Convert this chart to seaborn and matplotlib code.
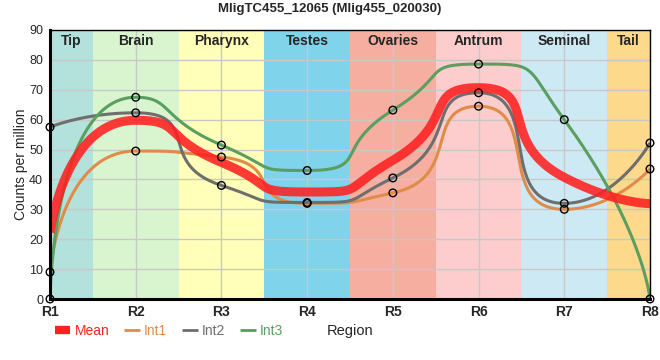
import numpy as np
import pandas as pd
import matplotlib
matplotlib.use("Agg")
import matplotlib.pyplot as plt
import seaborn as sns
from matplotlib.lines import Line2D

regions = ["R1", "R2", "R3", "R4", "R5", "R6", "R7", "R8"]
int1 = [9.0, 49.5, 47.5, 32.0, 35.5, 64.5, 30.0, 43.5]
int2 = [57.5, 62.3, 38.0, 32.3, 40.5, 69.0, 32.0, 52.2]
int3 = [0.0, 67.5, 51.5, 43.0, 63.2, 78.6, 60.0, 0.0]
mean = [22.2, 59.8, 45.7, 35.8, 46.4, 70.7, 40.7, 31.9]

band_names = ["Tip", "Brain", "Pharynx", "Testes", "Ovaries", "Antrum", "Seminal", "Tail"]
band_colors = ["#b3e2dd", "#d9f5cf", "#ffffb9", "#7fd3ea", "#f5ae9f", "#fdcccc", "#cdeaf4", "#fcd98b"]

series_colors = {"Mean": "#ff2020", "Int1": "#e08c48", "Int2": "#6e6e6e", "Int3": "#5a9e60"}

X_PX = 600 / 7.0     # pixels per category step
Y_PX = 269 / 90.0    # pixels per y unit


def smooth_path(xv, yv, smooth=0.7, n=60):
    """Bezier smoothing computed in pixel space (segment-length weighted, clamped)."""
    P = [(float(a) * X_PX, float(b) * Y_PX) for a, b in zip(xv, yv)]
    N = len(P)
    segs = []
    cp0 = P[0]
    for i in range(1, N):
        x, y = P[i]
        px, py = P[i - 1]
        if i == N - 1:
            cp1 = (x, y)
            ncp0 = None
        else:
            nx, ny = P[i + 1]
            vx, vy = nx - px, ny - py
            lp = np.hypot(x - px, y - py)
            ln = np.hypot(nx - x, ny - y)
            r = ln / (ln + lp)
            ncx = x + vx * smooth * r
            ncy = y + vy * smooth * r
            ncx = min(ncx, max(nx, x)); ncy = min(ncy, max(ny, y))
            ncx = max(ncx, min(nx, x)); ncy = max(ncy, min(ny, y))
            vx, vy = ncx - x, ncy - y
            c1x = x - vx * lp / ln
            c1y = y - vy * lp / ln
            c1x = min(c1x, max(px, x)); c1y = min(c1y, max(py, y))
            c1x = max(c1x, min(px, x)); c1y = max(c1y, min(py, y))
            vx, vy = x - c1x, y - c1y
            ncx = x + vx * ln / lp
            ncy = y + vy * ln / lp
            cp1 = (c1x, c1y)
            ncp0 = (ncx, ncy)
        segs.append((P[i - 1], cp0, cp1, P[i]))
        cp0 = ncp0
    xs, ys = [], []
    for k, (p0, p1, p2, p3) in enumerate(segs):
        t = np.linspace(0, 1, n, endpoint=(k == len(segs) - 1))
        a = (1 - t) ** 3; b = 3 * (1 - t) ** 2 * t; c = 3 * (1 - t) * t ** 2; d = t ** 3
        xs.append((a * p0[0] + b * p1[0] + c * p2[0] + d * p3[0]) / X_PX)
        ys.append((a * p0[1] + b * p1[1] + c * p2[1] + d * p3[1]) / Y_PX)
    return np.concatenate(xs), np.concatenate(ys)


pos = np.arange(len(regions))
frames = []
for name, vals in [("Mean", mean), ("Int1", int1), ("Int2", int2), ("Int3", int3)]:
    xs, ys = smooth_path(pos, vals)
    frames.append(pd.DataFrame({"x": xs, "y": ys, "series": name}))
curve = pd.concat(frames, ignore_index=True)
pts = pd.concat([pd.DataFrame({"x": pos, "y": v, "series": n})
                 for n, v in [("Int1", int1), ("Int2", int2), ("Int3", int3)]], ignore_index=True)

sns.set_style("white")
plt.rcParams["font.family"] = ["Liberation Sans", "DejaVu Sans"]

fig = plt.figure(figsize=(6.6, 3.6), dpi=100)
ax = fig.add_axes([50 / 660, 1 - 299 / 360, 600 / 660, 269 / 360])

for i, (bn, bc) in enumerate(zip(band_names, band_colors)):
    lo = max(i - 0.5, 0)
    hi = min(i + 0.5, len(regions) - 1)
    ax.axvspan(lo, hi, color=bc, lw=0, zorder=0)
    ax.text((lo + hi) / 2, 88.6, bn, ha="center", va="top", fontsize=10, fontweight="bold", zorder=5)

ax.set_xlim(0, len(regions) - 1)
ax.set_ylim(0, 90)
ax.set_yticks(np.arange(0, 91, 10))
ax.set_xticks(pos)
ax.set_xticklabels(regions, fontweight="bold", fontsize=10)
ax.tick_params(axis="y", labelsize=9, length=3, pad=2)
ax.tick_params(axis="x", length=0, pad=4)
ax.grid(True, color="#c8c8c8", lw=1, zorder=1)
ax.set_axisbelow(False)
for ln in ax.get_xgridlines() + ax.get_ygridlines():
    ln.set_zorder(1)

lw_map = {"Mean": 6.5, "Int1": 2.2, "Int2": 2.2, "Int3": 2.2}
alpha_map = {"Mean": 0.88, "Int1": 1, "Int2": 1, "Int3": 1}
for name in ["Int1", "Int2", "Int3", "Mean"]:
    sns.lineplot(data=curve[curve.series == name], x="x", y="y", estimator=None, sort=False,
                 color=series_colors[name], lw=lw_map[name], alpha=alpha_map[name], ax=ax,
                 zorder=3 if name != "Mean" else 4, legend=False, solid_capstyle="butt")

sns.scatterplot(data=pts, x="x", y="y", s=30, facecolor="none", edgecolor="black",
                linewidth=1, ax=ax, zorder=6, legend=False, clip_on=False)

for side in ["left", "bottom"]:
    ax.spines[side].set_linewidth(2.2)
for side in ["top", "right"]:
    ax.spines[side].set_linewidth(1)
for sp in ax.spines.values():
    sp.set_color("black")
    sp.set_zorder(7)

ax.set_xlabel("")
ax.set_ylabel("Counts per million", fontsize=10)
ax.yaxis.set_label_coords(-22 / 600, 0.5)
fig.text(0.5, 1 - 9 / 360, "MligTC455_12065 (Mlig455_020030)", ha="center", va="center",
         fontsize=9.5, fontweight="bold")

handles = [Line2D([], [], color=series_colors["Mean"], lw=6, solid_capstyle="butt"),
           Line2D([], [], color=series_colors["Int1"], lw=2, solid_capstyle="butt"),
           Line2D([], [], color=series_colors["Int2"], lw=2, solid_capstyle="butt"),
           Line2D([], [], color=series_colors["Int3"], lw=2, solid_capstyle="butt")]
leg = fig.legend(handles, ["Mean", "Int1", "Int2", "Int3"], loc="center left",
                 bbox_to_anchor=(55 / 660, 1 - 331 / 360), ncol=4, frameon=False,
                 fontsize=10, handlelength=1.1, handletextpad=0.3, columnspacing=1.1,
                 borderpad=0, borderaxespad=0, labelcolor="linecolor")
fig.text(350 / 660, 1 - 331 / 360, "Region", ha="center", va="center", fontsize=10.5)

fig.savefig("out.png", dpi=100)
